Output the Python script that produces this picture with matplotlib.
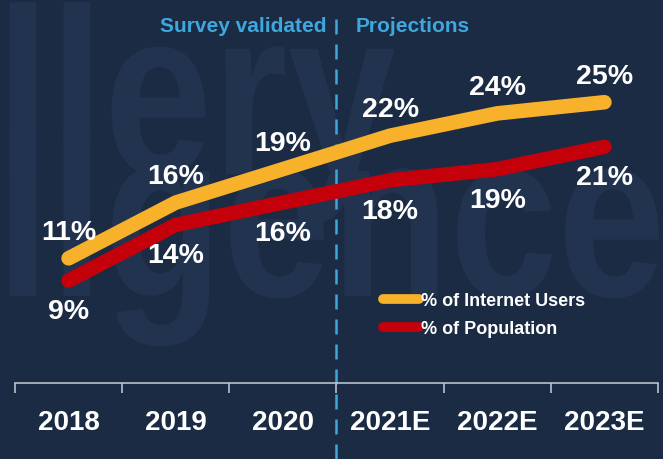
import matplotlib.pyplot as plt
from matplotlib.lines import Line2D
from matplotlib.textpath import TextPath
from matplotlib.patches import PathPatch
from matplotlib.font_manager import FontProperties
from matplotlib.transforms import Affine2D, IdentityTransform

# Internet users vs population share, actual and projected
years = ['2018', '2019', '2020', '2021E', '2022E', '2023E']
internet_users = [11, 16, 19, 22, 24, 25]
population = [9, 14, 16, 18, 19, 21]
series_names = ['% of Internet Users', '% of Population']

bg = '#1b2b43'
yellow = '#f8b12a'
red = '#c4000b'
blue = '#3ea8de'
plt.rcParams['font.family'] = ['Liberation Sans', 'DejaVu Sans']

W, H = 663, 460
fig = plt.figure(figsize=(W / 100, H / 100), dpi=100, facecolor=bg)
ax = fig.add_axes([15 / W, 0, 643 / W, 1])
ax.patch.set_visible(False)
ax.set_xlim(-0.5, 5.5)
ax.set_ylim(-7.0, 34.26)

# faint watermark behind the chart (bold, squeezed horizontally)
wm_font = FontProperties(family='Liberation Sans', weight='bold')
for word, base in [('llery', 175), ('ligence', 297)]:
    tp = TextPath((0, 0), word, size=237, prop=wm_font)
    tr = Affine2D().scale(0.82, 1).translate(-4, H - base) + IdentityTransform()
    ax.add_patch(PathPatch(tp, transform=tr, facecolor='#21334e',
                           edgecolor='none', zorder=0, clip_on=False))

x = range(len(years))
ax.plot(x, population, color=red, lw=10.5, solid_capstyle='round', zorder=3)
ax.plot(x, internet_users, color=yellow, lw=10.5, solid_capstyle='round', zorder=4)

for i, v in enumerate(internet_users):
    ax.annotate(f'{v}%', (i, v), xytext=(0, 19), textcoords='offset points',
                ha='center', va='center', color='white', fontsize=20.5,
                fontweight='bold', zorder=5)
for i, v in enumerate(population):
    ax.annotate(f'{v}%', (i, v), xytext=(0, -22), textcoords='offset points',
                ha='center', va='center', color='white', fontsize=20.5,
                fontweight='bold', zorder=5)

# divider between surveyed and projected years
ax.axvline(2.5, ymin=0, ymax=0.965, color=blue, lw=1.8, dashes=(6, 4), zorder=1)
fig.text(326 / W, 1 - 26 / H, 'Survey validated', ha='right', va='center',
         color=blue, fontsize=15, fontweight='bold')
fig.text(356 / W, 1 - 26 / H, 'Projections', ha='left', va='center',
         color=blue, fontsize=15, fontweight='bold')

# category axis with separators between years
for s in ['top', 'right', 'left']:
    ax.spines[s].set_visible(False)
ax.spines['bottom'].set_position(('data', -0.18))
ax.spines['bottom'].set_color('#b9c2cc')
ax.spines['bottom'].set_linewidth(1.2)
ax.set_yticks([])
ax.set_xticks(list(x))
ax.set_xticklabels(years, color='white', fontsize=20, fontweight='bold')
ax.tick_params(axis='x', which='major', length=0, pad=19)
ax.set_xticks([i - 0.5 for i in range(len(years) + 1)], minor=True)
ax.tick_params(axis='x', which='minor', length=7, width=1.2, color='#b9c2cc',
               direction='out')

handles = [Line2D([], [], color=yellow, lw=7, solid_capstyle='round'),
           Line2D([], [], color=red, lw=7, solid_capstyle='round')]
leg = ax.legend(handles, series_names, loc='upper left',
                bbox_to_anchor=(383 / W, 1 - 293 / H),
                bbox_transform=fig.transFigure, frameon=False,
                handlelength=2.0, handletextpad=0.1, labelspacing=0.6,
                borderpad=0, borderaxespad=0,
                prop={'size': 13, 'weight': 'bold'})
for t in leg.get_texts():
    t.set_color('white')

fig.savefig('out.png', dpi=100, facecolor=bg)
